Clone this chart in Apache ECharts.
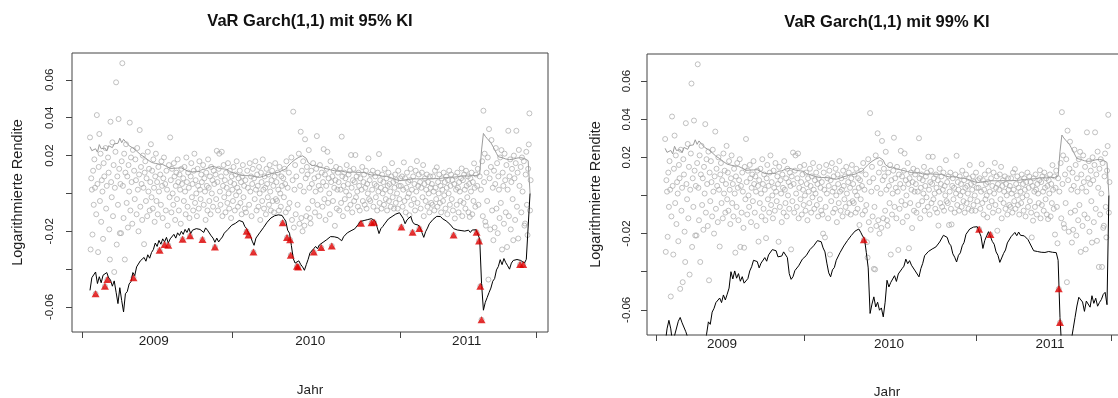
<!DOCTYPE html>
<html>
<head>
<meta charset="utf-8">
<script src="https://cdn.jsdelivr.net/npm/echarts@6/dist/echarts.min.js"></script>
<style>
  html, body { margin: 0; padding: 0; background: #fff; }
  #chart { width: 1118px; height: 398px; }
</style>
</head>
<body>
<div id="chart"></div>
<script>
// Daily log returns, one value per trading day
const returns = [
  0.0296,-0.0296,0.008,0.002,-0.0217,0.012,-0.006,0.018,0.003,-0.053,
  -0.011,0.0414,0.005,-0.031,0.014,0.0314,-0.004,0.021,-0.015,0.007,
  0.001,-0.024,0.016,0.009,-0.049,0.024,-0.008,0.004,-0.0455,0.019,
  0.011,-0.019,-0.0349,0.0379,0.006,-0.002,0.027,-0.012,0.015,-0.0415,
  0.003,0.022,0.0587,-0.027,0.009,-0.006,0.0393,0.013,-0.021,0.005,
  -0.021,0.017,0.0688,0.004,-0.013,0.021,-0.0349,0.011,0.026,-0.005,
  0.009,-0.018,0.015,0.001,0.0374,-0.009,0.019,0.006,-0.016,0.023,
  -0.0445,0.012,-0.003,0.018,0.007,-0.011,0.024,0.002,-0.020,0.010,
  0.0335,-0.007,0.014,0.005,-0.014,0.020,0.003,-0.0268,0.011,0.017,
  -0.004,0.008,-0.012,0.022,0.001,0.013,-0.009,0.006,0.026,-0.002,
  0.012,-0.008,0.018,0.003,-0.015,0.009,0.021,-0.004,0.006,-0.011,
  0.014,0.001,-0.030,0.010,-0.006,0.017,0.004,-0.013,0.008,0.019,
  -0.027,0.005,-0.009,0.012,0.002,-0.017,-0.0274,0.015,-0.002,0.0296,
  0.007,-0.010,0.013,0.000,-0.006,0.016,0.009,-0.014,0.004,0.011,
  -0.003,0.018,0.006,-0.009,0.010,0.002,-0.016,0.013,0.005,-0.0242,
  0.008,-0.004,0.014,0.001,-0.011,0.019,0.006,-0.007,0.011,0.003,
  -0.013,-0.0224,0.009,0.016,-0.002,0.005,-0.009,0.012,0.021,-0.005,
  0.007,0.000,-0.012,0.013,0.004,-0.008,0.017,0.002,-0.003,0.010,
  0.006,-0.0243,0.015,-0.006,0.008,0.001,-0.014,0.011,0.004,-0.009,
  0.018,0.003,-0.004,0.009,-0.011,0.014,0.000,0.007,-0.007,0.012,
  0.005,-0.0283,0.010,-0.003,0.0225,0.006,-0.009,0.013,0.021,0.001,
  -0.006,0.009,0.022,-0.012,0.004,0.015,-0.002,0.007,-0.010,0.011,
  0.003,-0.005,0.016,0.000,-0.008,0.012,0.006,-0.013,0.009,0.002,
  -0.004,0.014,0.005,-0.009,0.010,-0.001,0.017,0.003,-0.007,0.008,
  0.001,0.012,-0.005,0.006,-0.011,0.009,0.015,-0.002,0.004,-0.008,
  0.007,-0.010,-0.020,0.012,0.003,-0.022,-0.006,0.016,0.001,0.009,
  -0.012,0.005,0.013,-0.031,0.008,-0.003,0.017,0.002,-0.009,0.010,
  0.004,-0.007,0.014,0.000,-0.014,0.011,0.006,-0.004,0.018,0.002,
  -0.008,0.009,0.003,-0.011,0.013,0.005,-0.002,0.010,-0.006,0.015,
  0.001,-0.009,0.007,0.012,-0.004,0.004,-0.010,0.009,0.016,-0.003,
  0.006,-0.004,0.011,0.002,-0.009,0.014,0.000,-0.007,0.009,0.004,
  -0.0155,0.008,-0.002,0.013,0.005,-0.010,0.017,-0.0233,0.003,-0.008,
  0.011,-0.005,-0.0245,-0.0326,0.019,-0.014,0.007,0.0432,-0.018,0.002,
  0.015,-0.011,0.009,-0.0385,-0.006,-0.0388,0.021,-0.016,0.004,0.0326,
  -0.013,0.012,-0.020,0.017,0.001,-0.017,0.0286,0.008,-0.012,0.014,
  0.010,-0.008,0.0229,0.003,-0.013,-0.0159,0.012,0.005,-0.004,0.016,
  -0.031,0.008,-0.010,0.001,0.013,0.0303,-0.006,0.009,0.004,-0.012,
  0.015,0.002,-0.0286,0.011,-0.007,0.006,0.0234,-0.003,0.010,-0.014,
  0.004,0.013,0.022,-0.005,0.008,0.000,-0.011,0.017,0.006,-0.0277,
  0.009,-0.004,0.012,0.003,-0.0171,0.007,0.014,-0.008,0.002,0.011,
  0.006,-0.009,0.013,0.002,-0.005,0.030,0.009,-0.012,0.004,0.011,
  -0.003,0.008,0.001,0.015,-0.008,0.005,0.010,-0.001,0.012,-0.006,
  0.0203,0.003,-0.010,0.007,0.013,-0.004,0.006,0.0203,-0.002,0.009,
  0.001,-0.007,0.011,0.004,-0.009,0.008,-0.0158,0.002,0.014,-0.004,
  0.006,0.010,-0.006,0.003,0.012,-0.008,0.005,0.000,0.0185,-0.003,
  0.007,-0.004,0.010,-0.0155,0.002,0.012,-0.007,-0.0152,0.005,0.009,
  -0.002,0.004,-0.009,0.011,0.001,0.0208,-0.005,0.007,0.003,-0.008,
  0.010,0.000,0.006,-0.006,0.013,0.002,-0.003,0.008,-0.009,0.004,
  0.011,-0.004,0.005,0.001,-0.007,0.009,0.016,-0.002,0.006,-0.008,
  0.003,0.010,-0.005,0.007,0.000,-0.008,0.012,0.004,-0.003,0.008,
  0.004,-0.0177,0.009,-0.007,0.002,0.0164,-0.004,0.008,-0.010,0.003,
  0.011,-0.002,0.006,0.000,-0.0115,0.007,0.013,-0.006,0.002,-0.0205,
  0.009,-0.003,0.005,-0.009,0.012,0.001,0.0171,-0.005,0.004,0.010,
  -0.0185,0.006,-0.008,0.003,0.011,-0.002,0.015,-0.012,0.005,0.008,
  -0.004,0.002,0.010,-0.007,0.006,0.000,-0.010,0.009,0.003,-0.005,
  0.005,-0.006,0.009,0.001,-0.009,0.012,0.003,-0.003,0.0138,-0.007,
  0.006,0.000,0.010,-0.005,0.004,-0.010,0.008,0.002,-0.004,0.011,
  -0.001,0.006,-0.008,0.009,0.003,-0.011,0.007,0.000,0.012,-0.006,
  0.004,0.010,-0.003,0.007,-0.009,-0.022,0.005,-0.0132,0.009,0.002,
  -0.006,0.011,0.003,-0.010,0.006,0.001,-0.004,0.008,0.0132,-0.012,
  0.007,-0.005,0.010,0.002,-0.008,0.012,0.004,-0.002,0.009,-0.010,
  0.005,-0.0124,0.008,0.001,0.011,-0.011,0.006,-0.004,0.0159,0.003,
  -0.007,0.010,-0.0205,0.004,0.013,-0.006,-0.0251,0.009,-0.049,0.002,
  -0.0667,0.017,-0.012,0.0437,0.006,0.021,-0.015,-0.017,0.011,-0.004,
  0.019,-0.0455,0.034,0.008,-0.019,0.014,0.0282,-0.009,0.003,-0.0247,
  0.012,-0.018,0.005,0.024,-0.008,0.016,-0.021,0.009,0.002,-0.013,
  0.019,-0.005,0.0229,-0.0296,0.011,0.004,-0.016,0.021,0.007,-0.010,
  0.015,-0.0283,0.002,0.0331,-0.012,0.009,0.018,-0.019,0.006,0.013,
  -0.003,-0.0247,0.020,0.008,-0.014,0.016,0.0331,-0.007,0.011,-0.0238,
  0.023,0.004,-0.0375,0.014,-0.010,0.019,0.001,-0.0375,0.017,-0.017,
  -0.0159,0.010,0.022,-0.006,-0.022,0.013,0.0259,0.0423,-0.009,0.007
];

// Upper band, one value every third trading day
const upperBand = [
  0.0247,0.0226,0.0218,0.0236,0.0218,0.0258,0.0236,0.0230,0.0240,0.0224,
  0.0252,0.0260,0.0242,0.0262,0.0270,0.0265,0.0292,0.0268,0.0286,0.0274,
  0.0264,0.0252,0.0254,0.0240,0.0240,0.0224,0.0218,0.0206,0.0202,0.0193,
  0.0189,0.0178,0.0179,0.0164,0.0162,0.0159,0.0159,0.0155,0.0155,0.0153,
  0.0153,0.0143,0.0143,0.0132,0.0135,0.0133,0.0143,0.0134,0.0144,0.0135,
  0.0135,0.0125,0.0125,0.0115,0.0117,0.0114,0.0116,0.0115,0.0124,0.0116,
  0.0127,0.0119,0.0129,0.0127,0.0138,0.0134,0.0143,0.0137,0.0137,0.0127,
  0.0131,0.0128,0.0129,0.0121,0.0126,0.0115,0.0117,0.0109,0.0111,0.0102,
  0.0104,0.0096,0.0101,0.0094,0.0103,0.0094,0.0097,0.0093,0.0095,0.0087,
  0.0092,0.0085,0.0093,0.0091,0.0100,0.0098,0.0107,0.0104,0.0112,0.0108,
  0.0116,0.0112,0.0121,0.0121,0.0131,0.0129,0.0143,0.0149,0.0163,0.0165,
  0.0179,0.0179,0.0191,0.0189,0.0199,0.0197,0.0185,0.0163,0.0155,0.0147,
  0.0151,0.0149,0.0149,0.0140,0.0143,0.0135,0.0138,0.0130,0.0133,0.0125,
  0.0128,0.0120,0.0127,0.0118,0.0123,0.0119,0.0122,0.0113,0.0121,0.0112,
  0.0117,0.0113,0.0116,0.0112,0.0115,0.0111,0.0116,0.0111,0.0113,0.0103,
  0.0107,0.0097,0.0101,0.0098,0.0100,0.0096,0.0099,0.0091,0.0098,0.0090,
  0.0095,0.0085,0.0087,0.0077,0.0080,0.0070,0.0073,0.0068,0.0076,0.0072,
  0.0077,0.0074,0.0081,0.0077,0.0082,0.0077,0.0085,0.0077,0.0086,0.0078,
  0.0082,0.0077,0.0081,0.0077,0.0082,0.0078,0.0086,0.0079,0.0088,0.0081,
  0.0089,0.0084,0.0089,0.0085,0.0093,0.0086,0.0095,0.0088,0.0096,0.0092,
  0.0097,0.0093,0.0100,0.0092,0.0100,0.0095,0.0099,0.0094,0.0101,0.0102,
  0.0230,0.0317,0.0302,0.0290,0.0280,0.0268,0.0250,0.0232,0.0212,0.0194,
  0.0193,0.0189,0.0189,0.0182,0.0191,0.0179,0.0189,0.0181,0.0188,0.0187,
  0.0190,0.0189,0.0197,0.0185,0.0185,0.0173,0.0000
];

// 95% value at risk, one value every third trading day
const var95 = [
  -0.0512,-0.0445,-0.0438,-0.0415,-0.0476,-0.0440,-0.0472,-0.0432,-0.0440,-0.0418,
  -0.0446,-0.0458,-0.0490,-0.0462,-0.0522,-0.0582,-0.0498,-0.0566,-0.0626,-0.0530,
  -0.0518,-0.0478,-0.0466,-0.0418,-0.0434,-0.0388,-0.0378,-0.0356,-0.0360,-0.0338,
  -0.0358,-0.0324,-0.0342,-0.0312,-0.0296,-0.0262,-0.0280,-0.0248,-0.0268,-0.0240,
  -0.0256,-0.0232,-0.0262,-0.0240,-0.0234,-0.0216,-0.0236,-0.0208,-0.0222,-0.0200,
  -0.0216,-0.0190,-0.0206,-0.0184,-0.0212,-0.0194,-0.0190,-0.0186,-0.0180,-0.0190,
  -0.0192,-0.0206,-0.0182,-0.0194,-0.0203,-0.0224,-0.0236,-0.0258,-0.0236,-0.0256,
  -0.0242,-0.0230,-0.0210,-0.0206,-0.0190,-0.0184,-0.0168,-0.0162,-0.0158,-0.0152,
  -0.0143,-0.0144,-0.0150,-0.0174,-0.0186,-0.0208,-0.0224,-0.0252,-0.0274,-0.0236,
  -0.0226,-0.0208,-0.0204,-0.0181,-0.0172,-0.0152,-0.0150,-0.0130,-0.0132,-0.0118,
  -0.0127,-0.0113,-0.0114,-0.0116,-0.0132,-0.0146,-0.0194,-0.0210,-0.0275,-0.0344,
  -0.0368,-0.0360,-0.0356,-0.0375,-0.0388,-0.0406,-0.0376,-0.0348,-0.0314,-0.0304,
  -0.0292,-0.0280,-0.0292,-0.0272,-0.0273,-0.0258,-0.0259,-0.0244,-0.0243,-0.0228,
  -0.0222,-0.0229,-0.0230,-0.0234,-0.0238,-0.0250,-0.0229,-0.0223,-0.0208,-0.0208,
  -0.0197,-0.0197,-0.0187,-0.0181,-0.0162,-0.0148,-0.0155,-0.0143,-0.0142,-0.0138,
  -0.0136,-0.0133,-0.0130,-0.0147,-0.0178,-0.0212,-0.0186,-0.0175,-0.0161,-0.0153,
  -0.0135,-0.0134,-0.0122,-0.0120,-0.0109,-0.0108,-0.0102,-0.0112,-0.0132,-0.0160,
  -0.0140,-0.0130,-0.0121,-0.0150,-0.0162,-0.0163,-0.0167,-0.0180,-0.0206,-0.0232,
  -0.0202,-0.0183,-0.0160,-0.0152,-0.0137,-0.0132,-0.0121,-0.0130,-0.0122,-0.0133,
  -0.0132,-0.0145,-0.0148,-0.0162,-0.0170,-0.0186,-0.0192,-0.0193,-0.0194,-0.0196,
  -0.0197,-0.0199,-0.0200,-0.0194,-0.0206,-0.0193,-0.0203,-0.0192,-0.0199,-0.0240,
  -0.0476,-0.0617,-0.0575,-0.0550,-0.0524,-0.0500,-0.0464,-0.0450,-0.0404,-0.0386,
  -0.0350,-0.0376,-0.0344,-0.0366,-0.0382,-0.0400,-0.0368,-0.0354,-0.0356,-0.0349,
  -0.0348,-0.0354,-0.0354,-0.0368,-0.0348,-0.0346,0.0000
];

// 99% value at risk, one value every third trading day
const var99 = [
  -0.0780,-0.0700,-0.0655,-0.0700,-0.0780,-0.0735,-0.0725,-0.0660,-0.0640,-0.0668,
  -0.0668,-0.0715,-0.0745,-0.0795,-0.0845,-0.0940,-0.0830,-0.0900,-0.1000,-0.0880,
  -0.0820,-0.0780,-0.0730,-0.0663,-0.0676,-0.0612,-0.0592,-0.0562,-0.0560,-0.0538,
  -0.0562,-0.0522,-0.0548,-0.0518,-0.0486,-0.0400,-0.0438,-0.0396,-0.0434,-0.0410,
  -0.0450,-0.0426,-0.0460,-0.0456,-0.0436,-0.0396,-0.0374,-0.0340,-0.0336,-0.0347,
  -0.0380,-0.0355,-0.0350,-0.0326,-0.0345,-0.0312,-0.0308,-0.0284,-0.0283,-0.0290,
  -0.0322,-0.0326,-0.0318,-0.0296,-0.0300,-0.0326,-0.0410,-0.0440,-0.0426,-0.0394,
  -0.0398,-0.0369,-0.0366,-0.0334,-0.0336,-0.0316,-0.0311,-0.0284,-0.0284,-0.0264,
  -0.0260,-0.0237,-0.0240,-0.0243,-0.0275,-0.0296,-0.0355,-0.0406,-0.0427,-0.0390,
  -0.0378,-0.0340,-0.0336,-0.0300,-0.0293,-0.0265,-0.0255,-0.0236,-0.0233,-0.0210,
  -0.0204,-0.0187,-0.0189,-0.0176,-0.0193,-0.0213,-0.0226,-0.0300,-0.0380,-0.0619,
  -0.0570,-0.0532,-0.0585,-0.0560,-0.0602,-0.0590,-0.0637,-0.0560,-0.0445,-0.0480,
  -0.0456,-0.0446,-0.0421,-0.0451,-0.0412,-0.0406,-0.0384,-0.0371,-0.0334,-0.0358,
  -0.0342,-0.0366,-0.0360,-0.0396,-0.0404,-0.0427,-0.0384,-0.0356,-0.0316,-0.0321,
  -0.0294,-0.0301,-0.0281,-0.0286,-0.0270,-0.0276,-0.0244,-0.0234,-0.0209,-0.0214,
  -0.0220,-0.0250,-0.0264,-0.0306,-0.0324,-0.0349,-0.0314,-0.0301,-0.0264,-0.0246,
  -0.0204,-0.0201,-0.0176,-0.0184,-0.0166,-0.0176,-0.0164,-0.0168,-0.0215,-0.0278,
  -0.0236,-0.0212,-0.0190,-0.0192,-0.0241,-0.0256,-0.0296,-0.0314,-0.0351,-0.0357,
  -0.0304,-0.0286,-0.0249,-0.0244,-0.0216,-0.0214,-0.0194,-0.0211,-0.0192,-0.0209,
  -0.0204,-0.0212,-0.0212,-0.0232,-0.0229,-0.0271,-0.0290,-0.0296,-0.0294,-0.0301,
  -0.0298,-0.0304,-0.0299,-0.0298,-0.0294,-0.0302,-0.0298,-0.0304,-0.0300,-0.0340,
  -0.0640,-0.0820,-0.0900,-0.0850,-0.0870,-0.0800,-0.0760,-0.0700,-0.0640,-0.0580,
  -0.0534,-0.0529,-0.0559,-0.0608,-0.0554,-0.0551,-0.0586,-0.0526,-0.0566,-0.0539,
  -0.0581,-0.0561,-0.0546,-0.0519,-0.0508,-0.0573,0.0000
];

// Trading days on which the return fell below the value at risk
const hits95 = [9,24,28,70,112,120,126,149,161,181,201,252,255,263,310,317,322,323,
  333,335,360,372,389,436,453,457,501,519,530,585,622,626,628,630,692,697];
const hits99 = [317,501,519,628,630];

// Time axis: first observation (fractional year) and the length of one trading day
const firstDay = 2008.593;
const dayLen = 0.003972;
const bandStride = 3;

const FONT = '"Liberation Sans", Arial, Helvetica, sans-serif';
const INK = '#1e1e1e';
const FRAME = '#454545';

const dayX = i => firstDay + i * dayLen;
const returnPts = returns.map((v, i) => [dayX(i), v]);
const bandPts = arr => arr.map((v, k) => [dayX(k * bandStride), v]);
const hitPts = idx => idx.map(i => [dayX(i), returns[i]]);

function xAxisFor(g, tickVals, labelVals, nameGap) {
  return {
    type: 'value', gridIndex: g, min: 2008.478, max: 2011.52,
    axisLine: { show: false, onZero: false },
    splitLine: { show: false },
    axisTick: { show: true, length: 6, customValues: tickVals, lineStyle: { color: FRAME, width: 1 } },
    axisLabel: {
      customValues: labelVals, formatter: v => String(Math.round(v)),
      fontFamily: FONT, fontSize: 13.5, color: INK, margin: 2
    },
    name: 'Jahr', nameLocation: 'middle', nameGap: nameGap,
    nameTextStyle: { fontFamily: FONT, fontSize: 13.5, color: INK }
  };
}

function yAxisFor(g, nameGap, labelMargin) {
  return {
    type: 'value', gridIndex: g, min: -0.0732, max: 0.0742,
    axisLine: { show: false, onZero: false },
    splitLine: { show: false },
    axisTick: { show: true, length: 6, customValues: [-0.06, -0.04, -0.02, 0, 0.02, 0.04, 0.06],
      lineStyle: { color: FRAME, width: 1 } },
    axisLabel: {
      customValues: [-0.06, -0.02, 0.02, 0.04, 0.06], formatter: v => v.toFixed(2),
      rotate: 90, fontFamily: FONT, fontSize: 11.5, color: INK, margin: labelMargin
    },
    name: 'Logarithmierte Rendite', nameLocation: 'middle', nameRotate: 90, nameGap: nameGap,
    nameTextStyle: { fontFamily: FONT, fontSize: 14.5, color: INK }
  };
}

function panelSeries(g, varBand, hits) {
  return [
    { type: 'scatter', xAxisIndex: g, yAxisIndex: g, data: returnPts, symbol: 'circle', symbolSize: 5,
      itemStyle: { color: 'rgba(0,0,0,0)', borderColor: '#a8a8a8', borderWidth: 0.9 }, silent: true, z: 1 },
    { type: 'line', xAxisIndex: g, yAxisIndex: g, data: bandPts(upperBand), symbol: 'none',
      lineStyle: { color: '#9c9c9c', width: 1 }, silent: true, z: 2 },
    { type: 'line', xAxisIndex: g, yAxisIndex: g, data: bandPts(varBand), symbol: 'none',
      lineStyle: { color: '#000', width: 1 }, silent: true, z: 3 },
    { type: 'scatter', xAxisIndex: g, yAxisIndex: g, data: hitPts(hits), symbol: 'triangle', symbolSize: [8, 7],
      itemStyle: { color: '#e00000' }, silent: true, z: 4 }
  ];
}

const chart = echarts.init(document.getElementById('chart'), null, { renderer: 'canvas' });
chart.setOption({
  animation: false,
  backgroundColor: '#fff',
  title: [
    { text: 'VaR Garch(1,1) mit 95% KI', left: 310, top: 13, textAlign: 'center', padding: 0,
      textStyle: { fontFamily: FONT, fontSize: 16.5, fontWeight: 'bold', color: '#111' } },
    { text: 'VaR Garch(1,1) mit 99% KI', left: 887, top: 14, textAlign: 'center', padding: 0,
      textStyle: { fontFamily: FONT, fontSize: 16.5, fontWeight: 'bold', color: '#111' } }
  ],
  grid: [
    { left: 72, top: 53, width: 476, height: 279, show: true, borderColor: FRAME, borderWidth: 1,
      backgroundColor: 'transparent', containLabel: false, outerBoundsMode: 'none' },
    { left: 647, top: 54, width: 480, height: 281, show: true, borderColor: FRAME, borderWidth: 1,
      backgroundColor: 'transparent', containLabel: false, outerBoundsMode: 'none' }
  ],
  xAxis: [
    xAxisFor(0, [2008.542, 2009.50, 2010.574, 2011.443], [2009, 2010, 2011], 51),
    xAxisFor(1, [2008.537, 2009.473, 2010.563, 2011.419], [2008.953, 2010.012, 2011.032], 50)
  ],
  yAxis: [
    yAxisFor(0, 47, 16),
    yAxisFor(1, 44, 14)
  ],
  series: [
    ...panelSeries(0, var95, hits95),
    ...panelSeries(1, var99, hits99)
  ]
});
</script>
</body>
</html>
